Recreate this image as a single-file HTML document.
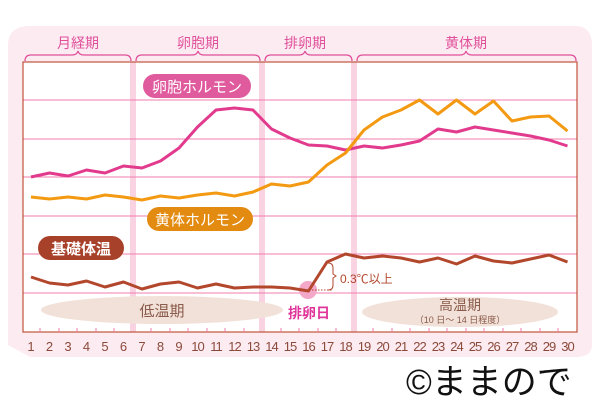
<!DOCTYPE html>
<html><head><meta charset="utf-8"><style>
body{margin:0;width:600px;height:400px;background:#fff;overflow:hidden}
svg{display:block}
text{font-family:"Liberation Sans","Noto Sans CJK JP",sans-serif}
</style></head><body>
<svg width="600" height="400" viewBox="0 0 600 400" xmlns="http://www.w3.org/2000/svg">
<path d="M30 26 H575 Q592 26 592 45 V345 Q592 357 575 357 H30 L8 345 V45 Q8 26 30 26 Z" fill="#fdebf2"/>
<rect x="23" y="62" width="554" height="270" fill="#fff"/>
<g fill="#f9d3e1">
<rect x="130" y="62" width="6" height="270"/>
<rect x="259" y="62" width="6" height="270"/>
<rect x="351" y="62" width="6" height="270"/>
</g>
<g stroke="#f27cae" stroke-width="1">
<line x1="23" y1="100" x2="577" y2="100"/><line x1="23" y1="139" x2="577" y2="139"/>
<line x1="23" y1="177" x2="577" y2="177"/><line x1="23" y1="216" x2="577" y2="216"/>
<line x1="23" y1="254" x2="577" y2="254"/><line x1="23" y1="293" x2="577" y2="293"/>
</g>
<rect x="23" y="62" width="554" height="270" fill="none" stroke="#c0533a" stroke-width="1.2"/>
<g stroke="#e0509a" stroke-width="1.3" fill="none">
<path d="M25 61 Q25 55 31 55 H72 Q77 55 78 51 Q79 55 84 55 H125 Q131 55 131 61"/>
<path d="M136 61 Q136 55 142 55 H192 Q197 55 198 51 Q199 55 204 55 H254 Q260 55 260 61"/>
<path d="M265 61 Q265 55 271 55 H299 Q304 55 305 51 Q306 55 311 55 H346 Q352 55 352 61"/>
<path d="M357 61 Q357 55 363 55 H460 Q465 55 466 51 Q467 55 472 55 H570 Q576 55 576 61"/>
</g>
<g fill="#e0509a" font-size="14" text-anchor="middle">
<text x="78" y="48">月経期</text><text x="198" y="48">卵胞期</text>
<text x="305" y="48">排卵期</text><text x="466" y="48">黄体期</text>
</g>
<ellipse cx="162" cy="310" rx="121" ry="14" fill="#f2e1d8"/>
<ellipse cx="460" cy="312" rx="98" ry="15" fill="#f2e1d8"/>
<text x="162" y="316" font-size="15" fill="#8a5a4a" text-anchor="middle">低温期</text>
<text x="460" y="310" font-size="14" fill="#8a5a4a" text-anchor="middle">高温期</text>
<text x="460" y="323" font-size="9" fill="#8a5a4a" text-anchor="middle">（10 日～ 14 日程度）</text>
<polyline fill="none" stroke="#e23b8e" stroke-width="3" stroke-linejoin="round" points="31,177 49.5,173 68,176 86.5,170 105,173 123.5,166 142,168 160.5,161 179,148 197.5,127 216,110 234.5,108 253,110 271.5,129 290,138 308.5,145 327,146 345.5,150 364,146 382.5,148 401,145 419.5,141 438,129 456.5,132 475,127 493.5,130 512,133 530.5,136 549,140 567.5,146"/>
<polyline fill="none" stroke="#f39a12" stroke-width="3" stroke-linejoin="round" points="31,197 49.5,199 68,197 86.5,199 105,195 123.5,197 142,200 160.5,196 179,198 197.5,195 216,193 234.5,196 253,192 271.5,184 290,186 308.5,182 327,165 345.5,153 364,130 382.5,117 401,110 419.5,100 438,114 456.5,100 475,114 493.5,101 512,121 530.5,117 549,116 567.5,131"/>
<circle cx="308" cy="290" r="9" fill="#f3a7c9"/>
<polyline fill="none" stroke="#b2472c" stroke-width="3" stroke-linejoin="round" points="31,277 49.5,283 68,285 86.5,281 105,287 123.5,282 142,289 160.5,284 179,282 197.5,288 216,284 234.5,288 253,287 271.5,287 290,288 308.5,291 327,262 345.5,254 364,258 382.5,256 401,258 419.5,262 438,258 456.5,264 475,256 493.5,261 512,263 530.5,259 549,255 567.5,262"/>
<line x1="312" y1="290" x2="332" y2="290" stroke="#b2472c" stroke-dasharray="1.5 1.5"/>
<path d="M328 263 Q333 263 333 268 V274 L336 276 L333 278 V285 Q333 290 328 290" fill="none" stroke="#b2472c" stroke-width="1"/>
<text x="340" y="283" font-size="12" fill="#b2472c">0.3℃以上</text>
<text x="309" y="318" font-size="14" font-weight="bold" fill="#e0359a" text-anchor="middle">排卵日</text>
<rect x="143" y="74" width="108" height="24" rx="12" fill="#e05a9e"/>
<text x="197" y="92" font-size="15" fill="#fff" text-anchor="middle">卵胞ホルモン</text>
<rect x="147" y="207" width="106" height="24" rx="12" fill="#e38a10"/>
<text x="200" y="225" font-size="15" fill="#fff" text-anchor="middle">黄体ホルモン</text>
<rect x="38" y="236" width="86" height="24" rx="12" fill="#a8412a"/>
<text x="81" y="254" font-size="15" font-weight="bold" fill="#fff" text-anchor="middle">基礎体温</text>
<g stroke="#f27cae" stroke-width="1">
<line x1="40" y1="328" x2="40" y2="332"/><line x1="59" y1="328" x2="59" y2="332"/><line x1="77" y1="328" x2="77" y2="332"/><line x1="96" y1="328" x2="96" y2="332"/><line x1="114" y1="328" x2="114" y2="332"/><line x1="151" y1="328" x2="151" y2="332"/><line x1="170" y1="328" x2="170" y2="332"/><line x1="188" y1="328" x2="188" y2="332"/><line x1="207" y1="328" x2="207" y2="332"/><line x1="225" y1="328" x2="225" y2="332"/><line x1="244" y1="328" x2="244" y2="332"/><line x1="281" y1="328" x2="281" y2="332"/><line x1="299" y1="328" x2="299" y2="332"/><line x1="318" y1="328" x2="318" y2="332"/><line x1="336" y1="328" x2="336" y2="332"/><line x1="373" y1="328" x2="373" y2="332"/><line x1="392" y1="328" x2="392" y2="332"/><line x1="410" y1="328" x2="410" y2="332"/><line x1="429" y1="328" x2="429" y2="332"/><line x1="447" y1="328" x2="447" y2="332"/><line x1="466" y1="328" x2="466" y2="332"/><line x1="484" y1="328" x2="484" y2="332"/><line x1="503" y1="328" x2="503" y2="332"/><line x1="521" y1="328" x2="521" y2="332"/><line x1="540" y1="328" x2="540" y2="332"/><line x1="558" y1="328" x2="558" y2="332"/>
</g>
<g font-size="13" fill="#8a4a3a" text-anchor="middle">
<text x="31" y="351">1</text><text x="49.5" y="351">2</text><text x="68" y="351">3</text><text x="86.5" y="351">4</text><text x="105" y="351">5</text><text x="123.5" y="351">6</text><text x="142" y="351">7</text><text x="160.5" y="351">8</text><text x="179" y="351">9</text><text x="197.5" y="351" letter-spacing="-1">10</text><text x="216" y="351" letter-spacing="-1">11</text><text x="234.5" y="351" letter-spacing="-1">12</text><text x="253" y="351" letter-spacing="-1">13</text><text x="271.5" y="351" letter-spacing="-1">14</text><text x="290" y="351" letter-spacing="-1">15</text><text x="308.5" y="351" letter-spacing="-1">16</text><text x="327" y="351" letter-spacing="-1">17</text><text x="345.5" y="351" letter-spacing="-1">18</text><text x="364" y="351" letter-spacing="-1">19</text><text x="382.5" y="351" letter-spacing="-1">20</text><text x="401" y="351" letter-spacing="-1">21</text><text x="419.5" y="351" letter-spacing="-1">22</text><text x="438" y="351" letter-spacing="-1">23</text><text x="456.5" y="351" letter-spacing="-1">24</text><text x="475" y="351" letter-spacing="-1">25</text><text x="493.5" y="351" letter-spacing="-1">26</text><text x="512" y="351" letter-spacing="-1">27</text><text x="530.5" y="351" letter-spacing="-1">28</text><text x="549" y="351" letter-spacing="-1">29</text><text x="567.5" y="351" letter-spacing="-1">30</text>
</g>
<text x="406" y="394" font-size="35" fill="#111">©ままので</text>
</svg>
</body></html>
